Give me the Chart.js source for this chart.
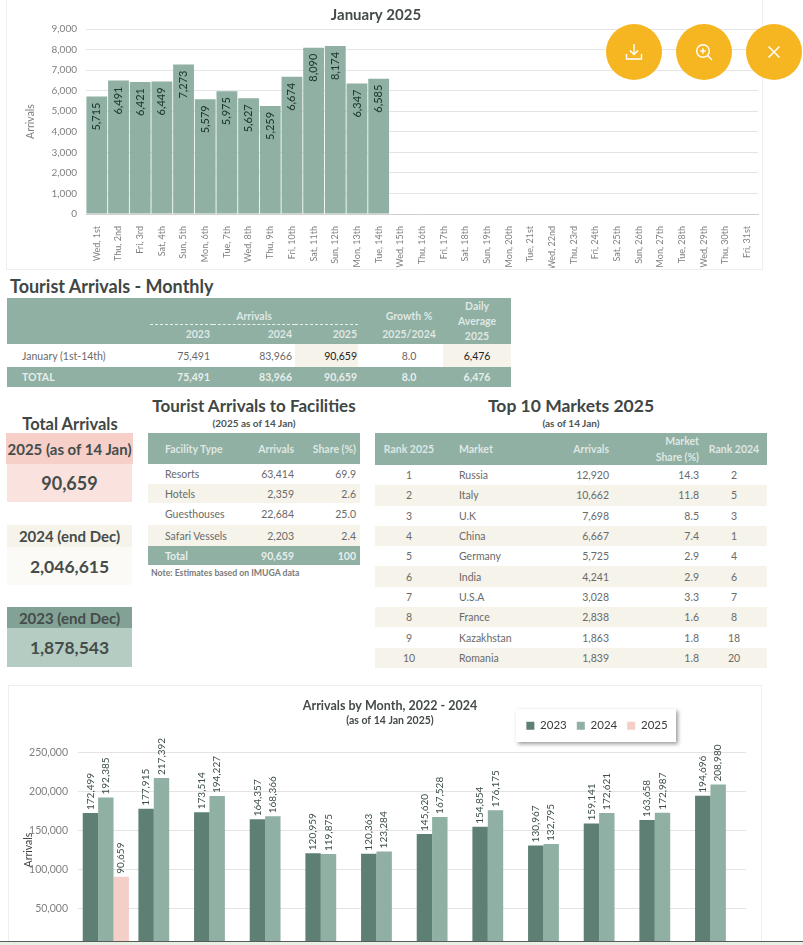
<!DOCTYPE html>
<html>
<head>
<meta charset="utf-8">
<title>Tourist Arrivals</title>
<script src="https://cdn.jsdelivr.net/npm/chart.js@4"></script>
<style>
html,body{margin:0;padding:0;background:#fff;}
body{width:803px;height:945px;overflow:hidden;position:relative;font-family:Lato,sans-serif;color:#595959;}
.abs{position:absolute;}
.frame{position:absolute;border:1.5px solid #eee;box-sizing:border-box;}
canvas{position:absolute;}
h2{position:absolute;margin:0;font-weight:700;color:#3f4745;white-space:nowrap;}
.sub{position:absolute;font-weight:700;font-size:10px;color:#4d5553;white-space:nowrap;}
.btn{position:absolute;top:24px;width:56px;height:56px;border-radius:50%;background:#f6b622;display:flex;align-items:center;justify-content:center;}
table{position:absolute;border-collapse:collapse;table-layout:fixed;font-size:10.5px;color:#6a6a6a;}
td,th{padding:0;font-weight:400;white-space:nowrap;}
.head td{background:#8fb0a3;color:rgba(255,255,255,.72);font-weight:700;}
.total td{background:#8fb0a3;color:rgba(255,255,255,.8);font-weight:700;}
.r{text-align:right;}
.c{text-align:center;}
.stripe{background:#f5f3ea;}
td.hl{background:#f5f3ea;color:#222;}
.box{position:absolute;left:7px;width:125px;text-align:center;font-weight:700;color:#454c4a;box-sizing:border-box;display:flex;align-items:center;justify-content:center;white-space:nowrap;}
#bottomBar{position:absolute;left:0;top:941px;width:803px;height:4px;background:#e8efe4;border-top:1px solid #5a5a5a;box-sizing:border-box;}
</style>
</head>
<body>

<div class="frame" style="left:6px;top:-2px;width:757px;height:272px;"></div>
<canvas id="dailyChart" width="756" height="268" style="left:6px;top:0;"></canvas>

<div class="btn" style="left:606px;"><svg width="18" height="18" viewBox="0 0 18 18" fill="none" stroke="#fff" stroke-width="1.4"><path d="M9 1v10M5 7.5 9 11.5 13 7.5M1.5 11v5h15v-5"/></svg></div>
<div class="btn" style="left:676px;"><svg width="18" height="18" viewBox="0 0 18 18" fill="none" stroke="#fff" stroke-width="1.4"><circle cx="8" cy="8" r="6.3"/><path d="M5.2 8h5.6M8 5.2v5.6M12.6 12.6 17 17"/></svg></div>
<div class="btn" style="left:746px;"><svg width="14" height="14" viewBox="0 0 14 14" fill="none" stroke="#fff" stroke-width="1.5"><path d="M1.5 1.5 12.5 12.5M12.5 1.5 1.5 12.5"/></svg></div>

<h2 style="left:10px;top:275px;font-size:18px;">Tourist Arrivals - Monthly</h2>
<table id="monthlyTable" style="left:7px;top:298px;width:504px;"></table>

<h2 style="left:0;width:140px;text-align:center;top:414px;font-size:16.5px;">Total Arrivals</h2>
<div class="box" style="top:433px;height:31px;background:#f6cfc9;font-size:15px;left:6px;width:127px;" id="lbl2025"></div>
<div class="box" style="top:464px;height:38px;background:#fae3df;font-size:18px;" id="val2025"></div>
<div class="box" style="top:525px;height:22px;background:#f5f3ea;font-size:15px;" id="lbl2024"></div>
<div class="box" style="top:547px;height:38px;background:#fbfaf6;font-size:17.5px;" id="val2024"></div>
<div class="box" style="top:607px;height:21px;background:#82a295;font-size:15px;" id="lbl2023"></div>
<div class="box" style="top:628px;height:39px;background:#b4ccc2;font-size:17.5px;" id="val2023"></div>

<h2 style="left:148px;width:212px;text-align:center;top:395px;font-size:17px;">Tourist Arrivals to Facilities</h2>
<div class="sub" style="left:148px;width:212px;text-align:center;top:417px;">(2025 as of 14 Jan)</div>
<table id="facilityTable" style="left:148px;top:433px;width:212px;"></table>
<div class="abs" style="left:151px;top:567px;font-size:8.7px;font-weight:700;color:#7a7a7a;">Note: Estimates based on IMUGA data</div>

<h2 style="left:375px;width:392px;text-align:center;top:395px;font-size:17.5px;">Top 10 Markets 2025</h2>
<div class="sub" style="left:375px;width:392px;text-align:center;top:417px;">(as of 14 Jan)</div>
<table id="marketTable" style="left:375px;top:433px;width:392px;"></table>

<div class="frame" style="left:8px;top:685px;width:754px;height:300px;"></div>
<div class="abs" style="left:516px;top:709px;width:160px;height:33px;background:#fff;box-shadow:2px 2px 4px rgba(0,0,0,.4);"></div>
<canvas id="monthChart" width="753" height="323" style="left:8px;top:686px;"></canvas>
<div id="bottomBar"></div>

<script>
// ---- data ----
const dayLabels = ['Wed, 1st','Thu, 2nd','Fri, 3rd','Sat, 4th','Sun, 5th','Mon, 6th','Tue, 7th','Wed, 8th','Thu, 9th','Fri, 10th','Sat, 11th','Sun, 12th','Mon, 13th','Tue, 14th','Wed, 15th','Thu, 16th','Fri, 17th','Sat, 18th','Sun, 19th','Mon, 20th','Tue, 21st','Wed, 22nd','Thu, 23rd','Fri, 24th','Sat, 25th','Sun, 26th','Mon, 27th','Tue, 28th','Wed, 29th','Thu, 30th','Fri, 31st'];
const dayValues = [5715,6491,6421,6449,7273,5579,5975,5627,5259,6674,8090,8174,6347,6585];

const monthLabels = ['Jan','Feb','Mar','Apr','May','Jun','Jul','Aug','Sep','Oct','Nov','Dec'];
const arrivals2023 = [172499,177915,173514,164357,120959,120363,145620,154854,130967,159141,163658,194696];
const arrivals2024 = [192385,217392,194227,168366,119875,123284,167528,176175,132795,172621,172987,208980];
const arrivals2025 = [90659];

const monthlyRow = ['January (1st-14th)','75,491','83,966','90,659','8.0','6,476'];
const monthlyTotal = ['TOTAL','75,491','83,966','90,659','8.0','6,476'];

const facilityNames = ['Resorts','Hotels','Guesthouses','Safari Vessels'];
const facilityArrivals = ['63,414','2,359','22,684','2,203'];
const facilityShare = ['69.9','2.6','25.0','2.4'];
const facilityTotal = ['Total','90,659','100'];

const marketNames = ['Russia','Italy','U.K','China','Germany','India','U.S.A','France','Kazakhstan','Romania'];
const marketArrivals = ['12,920','10,662','7,698','6,667','5,725','4,241','3,028','2,838','1,863','1,839'];
const marketShare = ['14.3','11.8','8.5','7.4','2.9','2.9','3.3','1.6','1.8','1.8'];
const marketRank2024 = [2,5,3,1,4,6,7,8,18,20];

const totalLabels = {2025:'2025 (as of 14 Jan)',2024:'2024 (end Dec)',2023:'2023 (end Dec)'};
const totalValues = {2025:'90,659',2024:'2,046,615',2023:'1,878,543'};

// ---- colours ----
const lightGreen = '#8fb0a2';
const darkGreen = '#5e7f74';
const pink = '#f3cfc8';

// ---- tables ----
for (const y of [2025,2024,2023]) {
	document.getElementById('lbl'+y).textContent = totalLabels[y];
	document.getElementById('val'+y).textContent = totalValues[y];
}

document.getElementById('monthlyTable').innerHTML =
	'<colgroup><col style="width:143px"><col style="width:63px"><col style="width:82px"><col style="width:63px"><col style="width:85px"><col style="width:68px"></colgroup>'+
	'<tr class="head" style="height:26px"><td></td><td colspan="3" class="c" style="vertical-align:bottom;padding-bottom:2px;border-bottom:1px dashed rgba(255,255,255,.8)">Arrivals</td><td class="c" style="vertical-align:bottom;padding:0 0 2px 17px">Growth %</td><td rowspan="2" class="c" style="line-height:15px">Daily<br>Average<br>2025</td></tr>'+
	'<tr class="head" style="height:20px"><td></td><td class="r" style="padding-right:3px">2023</td><td class="r" style="padding-right:3px">2024</td><td class="r" style="padding-right:1px">2025</td><td class="c" style="padding-left:17px">2025/2024</td></tr>'+
	'<tr style="height:23px"><td style="padding-left:15px">'+monthlyRow[0]+'</td><td class="r" style="padding-right:3px">'+monthlyRow[1]+'</td><td class="r" style="padding-right:3px">'+monthlyRow[2]+'</td><td class="r hl" style="padding-right:1px">'+monthlyRow[3]+'</td><td class="c" style="padding-left:17px">'+monthlyRow[4]+'</td><td class="c hl">'+monthlyRow[5]+'</td></tr>'+
	'<tr class="total" style="height:20px"><td style="padding-left:15px">'+monthlyTotal[0]+'</td><td class="r" style="padding-right:3px">'+monthlyTotal[1]+'</td><td class="r" style="padding-right:3px">'+monthlyTotal[2]+'</td><td class="r" style="padding-right:1px">'+monthlyTotal[3]+'</td><td class="c" style="padding-left:17px">'+monthlyTotal[4]+'</td><td class="c">'+monthlyTotal[5]+'</td></tr>';

let facRows = '<colgroup><col style="width:90px"><col style="width:56px"><col style="width:66px"></colgroup>'+
	'<tr class="head" style="height:31px"><td style="padding-left:17px">Facility Type</td><td class="r">Arrivals</td><td class="r" style="padding-right:4px">Share (%)</td></tr>';
const facHeights = [20,19,22,21];
facilityNames.forEach((n,i)=>{
	facRows += '<tr'+(i%2?' class="stripe"':'')+' style="height:'+facHeights[i]+'px"><td style="padding-left:17px">'+n+'</td><td class="r">'+facilityArrivals[i]+'</td><td class="r" style="padding-right:4px">'+facilityShare[i]+'</td></tr>';
});
facRows += '<tr class="total" style="height:19px"><td style="padding-left:17px">'+facilityTotal[0]+'</td><td class="r">'+facilityTotal[1]+'</td><td class="r" style="padding-right:4px">'+facilityTotal[2]+'</td></tr>';
document.getElementById('facilityTable').innerHTML = facRows;

let mktRows = '<colgroup><col style="width:68px"><col style="width:77px"><col style="width:91px"><col style="width:90px"><col style="width:66px"></colgroup>'+
	'<tr class="head" style="height:31px"><td class="c">Rank 2025</td><td style="padding-left:16px">Market</td><td class="r" style="padding-right:2px">Arrivals</td><td class="r" style="padding-right:2px;line-height:16px">Market<br>Share (%)</td><td class="c">Rank 2024</td></tr>';
marketNames.forEach((n,i)=>{
	mktRows += '<tr'+(i%2?' class="stripe"':'')+' style="height:20.3px"><td class="c">'+(i+1)+'</td><td style="padding-left:16px">'+n+'</td><td class="r" style="padding-right:2px">'+marketArrivals[i]+'</td><td class="r" style="padding-right:2px">'+marketShare[i]+'</td><td class="c">'+marketRank2024[i]+'</td></tr>';
});
document.getElementById('marketTable').innerHTML = mktRows;

// ---- charts ----
Chart.defaults.font.family = 'Lato';

// rotated value labels, the datalabels plugin is not available here
const barLabels = {
	id:'barLabels',
	afterDatasetsDraw(chart,args,opts){
		const ctx = chart.ctx;
		chart.data.datasets.forEach((ds,i)=>{
			chart.getDatasetMeta(i).data.forEach((bar,j)=>{
				if (ds.data[j]==null) return;
				ctx.save();
				ctx.translate(bar.x, opts.inside ? bar.y+opts.offset : bar.y-opts.offset);
				ctx.rotate(-Math.PI/2);
				ctx.font = opts.font;
				ctx.fillStyle = opts.color;
				ctx.textAlign = opts.inside ? 'right' : 'left';
				ctx.textBaseline = 'middle';
				ctx.fillText(ds.data[j].toLocaleString('en-US'),0,0);
				ctx.restore();
			});
		});
	}
};

// nudges title and legend to where the reference has them
const placeBoxes = {
	id:'placeBoxes',
	afterLayout(chart,args,opts){
		chart.boxes.forEach(b=>{
			if (b.options && b.options.text!==undefined && opts.titleShift) {
				b.left += opts.titleShift;
				b.right += opts.titleShift;
			}
		});
		if (opts.legendLeft!==undefined) {
			const l = chart.legend, h = l.height;
			l.left = opts.legendLeft; l.right = l.left+opts.legendWidth;
			l.top = opts.legendTop; l.bottom = l.top+h;
		}
	}
};

new Chart(document.getElementById('dailyChart'),{
	type:'bar',
	data:{
		labels:dayLabels,
		datasets:[{label:'Arrivals',data:dayValues,backgroundColor:lightGreen,barPercentage:0.96,categoryPercentage:1}]
	},
	options:{
		responsive:false,
		animation:false,
		layout:{padding:0},
		plugins:{
			legend:{display:false},
			tooltip:{enabled:false},
			title:{display:true,text:'January 2025',color:'#444b49',font:{size:15,weight:'bold'},padding:{top:6,bottom:5}},
			barLabels:{inside:true,offset:6,font:'500 11px Lato',color:'#1f3a32'},
			placeBoxes:{titleShift:-8}
		},
		scales:{
			x:{
				afterFit(s){s.height=54;},
				grid:{display:false},
				border:{color:'#cfcfcf'},
				ticks:{autoSkip:false,minRotation:90,maxRotation:90,color:'#7f7f7f',font:{size:9},padding:4}
			},
			y:{
				min:0,max:9000,
				afterFit(s){s.width=80;},
				grid:{color:'#e4e4e4',drawTicks:false},
				border:{display:false},
				title:{display:true,text:'Arrivals',color:'#7f7f7f',font:{size:10.5},padding:{top:18,bottom:0}},
				ticks:{stepSize:1000,color:'#7f7f7f',font:{size:10},padding:9,callback:v=>v.toLocaleString('en-US')}
			}
		}
	},
	plugins:[barLabels,placeBoxes]
});

new Chart(document.getElementById('monthChart'),{
	type:'bar',
	data:{
		labels:monthLabels,
		datasets:[
			{label:'2023',data:arrivals2023,backgroundColor:darkGreen},
			{label:'2024',data:arrivals2024,backgroundColor:lightGreen},
			{label:'2025',data:arrivals2025,backgroundColor:pink}
		]
	},
	options:{
		responsive:false,
		animation:false,
		layout:{padding:{right:15}},
		datasets:{bar:{barPercentage:1,categoryPercentage:0.83}},
		plugins:{
			// sits at the bottom for layout, below the cut, then gets moved up by placeBoxes
			legend:{position:'bottom',labels:{boxWidth:8,boxHeight:8,color:'#3b3b3b',font:{size:11.5},padding:10}},
			tooltip:{enabled:false},
			title:{display:true,text:'Arrivals by Month, 2022 - 2024',color:'#444b49',font:{size:12.5,weight:'bold'},padding:{top:12,bottom:1}},
			subtitle:{display:true,text:'(as of 14 Jan 2025)',color:'#444b49',font:{size:10.5,weight:'bold'},padding:{top:0,bottom:26}},
			barLabels:{inside:false,offset:3,font:'10px Lato',color:'#3c4d47'},
			placeBoxes:{titleShift:13,legendLeft:504,legendWidth:170,legendTop:24}
		},
		scales:{
			x:{
				afterFit(s){s.height=30;},
				grid:{display:false},
				border:{color:'#cfcfcf'},
				ticks:{color:'#7f7f7f',font:{size:10.5}}
			},
			y:{
				min:0,max:250000,
				afterFit(s){s.width=70;},
				grid:{color:'#e4e4e4',drawTicks:false},
				border:{display:false},
				title:{display:true,text:'Arrivals',color:'#3f3f3f',font:{size:10.5},padding:{top:14,bottom:0}},
				ticks:{stepSize:50000,color:'#7f7f7f',font:{size:10.5},padding:10,callback:v=>v.toLocaleString('en-US')}
			}
		}
	},
	plugins:[barLabels,placeBoxes]
});
</script>
</body>
</html>
